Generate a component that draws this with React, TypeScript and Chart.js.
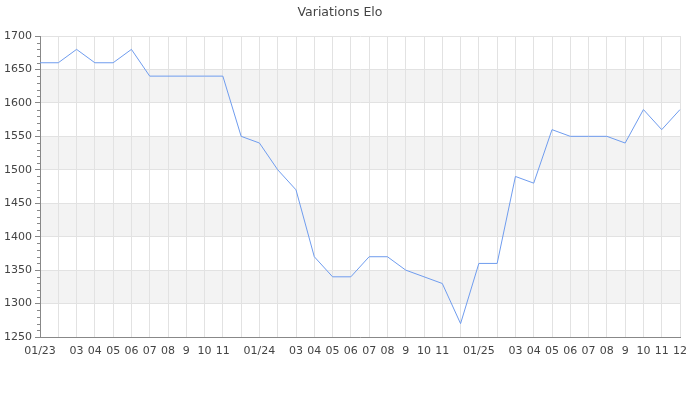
import React, { useEffect, useRef } from "react";
import { Chart, registerables } from "chart.js";

Chart.register(...registerables);

const categories = [
  "2023-01","2023-02","2023-03","2023-04","2023-05","2023-06","2023-07","2023-08","2023-09","2023-10","2023-11","2023-12",
  "2024-01","2024-02","2024-03","2024-04","2024-05","2024-06","2024-07","2024-08","2024-09","2024-10","2024-11","2024-12",
  "2025-01","2025-02","2025-03","2025-04","2025-05","2025-06","2025-07","2025-08","2025-09","2025-10","2025-11","2025-12",
];

const tickLabels = [
  "01/23","","03","04","05","06","07","08","9","10","11","",
  "01/24","","03","04","05","06","07","08","9","10","11","",
  "01/25","","03","04","05","06","07","08","9","10","11","12",
];

const eloValues = [
  1660,1660,1680,1660,1660,1680,1640,1640,1640,1640,1640,1550,
  1540,1500,1470,1370,1340,1340,1370,1370,1350,1340,1330,1270,
  1360,1360,1490,1480,1560,1550,1550,1550,1540,1590,1560,1590,
];

const bandStarts = [1300, 1400, 1500, 1600];
const bandSize = 50;
const yMin = 1250;
const yMax = 1700;
const yMajorStep = 50;
const yMinorStep = 10;

const decorPlugin = {
  id: "decor",
  beforeDraw(chart: any) {
    const { ctx, chartArea, scales } = chart;
    const y = scales.y;
    ctx.save();
    ctx.fillStyle = "#f3f3f3";
    for (const b of bandStarts) {
      const top = y.getPixelForValue(b + bandSize);
      const bot = y.getPixelForValue(b);
      ctx.fillRect(chartArea.left, top, chartArea.right - chartArea.left, bot - top);
    }
    ctx.restore();
  },
  afterDraw(chart: any) {
    const { ctx, chartArea, scales } = chart;
    const y = scales.y;
    ctx.save();
    ctx.strokeStyle = "#888888";
    ctx.lineWidth = 1;
    ctx.beginPath();
    for (let v = yMin; v <= yMax; v += yMinorStep) {
      if (v % yMajorStep === 0) continue;
      const py = Math.round(y.getPixelForValue(v)) + 0.5;
      ctx.moveTo(chartArea.left - 3, py);
      ctx.lineTo(chartArea.left, py);
    }
    ctx.stroke();
    ctx.restore();
  },
};

export default function App() {
  const canvasRef = useRef<HTMLCanvasElement | null>(null);

  useEffect(() => {
    if (!canvasRef.current) return;
    Chart.defaults.font.family = "'DejaVu Sans', sans-serif";
    const chart = new Chart(canvasRef.current, {
      type: "line",
      data: {
        labels: categories,
        datasets: [
          {
            label: "Elo",
            data: eloValues,
            borderColor: "#6f9cee",
            borderWidth: 1,
            pointRadius: 0,
            tension: 0,
            fill: false,
          },
        ],
      },
      options: {
        animation: false,
        responsive: true,
        maintainAspectRatio: false,
        layout: { padding: { left: 0, right: 20, top: 0, bottom: 0 } },
        plugins: {
          legend: { display: false },
          tooltip: { enabled: false },
          title: {
            display: true,
            text: "Variations Elo",
            color: "#444444",
            font: { size: 12.5, weight: "normal", lineHeight: 1.2 },
            padding: { top: 5, bottom: 16 },
          },
        },
        scales: {
          x: {
            type: "category",
            offset: false,
            grid: { color: "#e2e2e2", drawTicks: false },
            border: { color: "#888888" },
            afterFit: (scale: any) => {
              scale.height = 63;
            },
            ticks: {
              autoSkip: false,
              maxRotation: 0,
              minRotation: 0,
              padding: 8,
              color: "#444444",
              font: { size: 11 },
              callback: (_v: any, i: number) => tickLabels[i],
            },
          },
          y: {
            min: yMin,
            max: yMax,
            grid: { color: "#e2e2e2", tickColor: "#888888", tickLength: 5 },
            border: { color: "#888888" },
            afterFit: (scale: any) => {
              scale.width = 40;
            },
            ticks: {
              stepSize: yMajorStep,
              padding: 3,
              color: "#444444",
              font: { size: 11 },
              callback: (v: any) => String(v),
            },
          },
        },
      },
      plugins: [decorPlugin],
    });
    return () => chart.destroy();
  }, []);

  return (
    <div style={{ position: "absolute", left: 0, top: 0, width: 700, height: 400 }}>
      <canvas ref={canvasRef} />
    </div>
  );
}
